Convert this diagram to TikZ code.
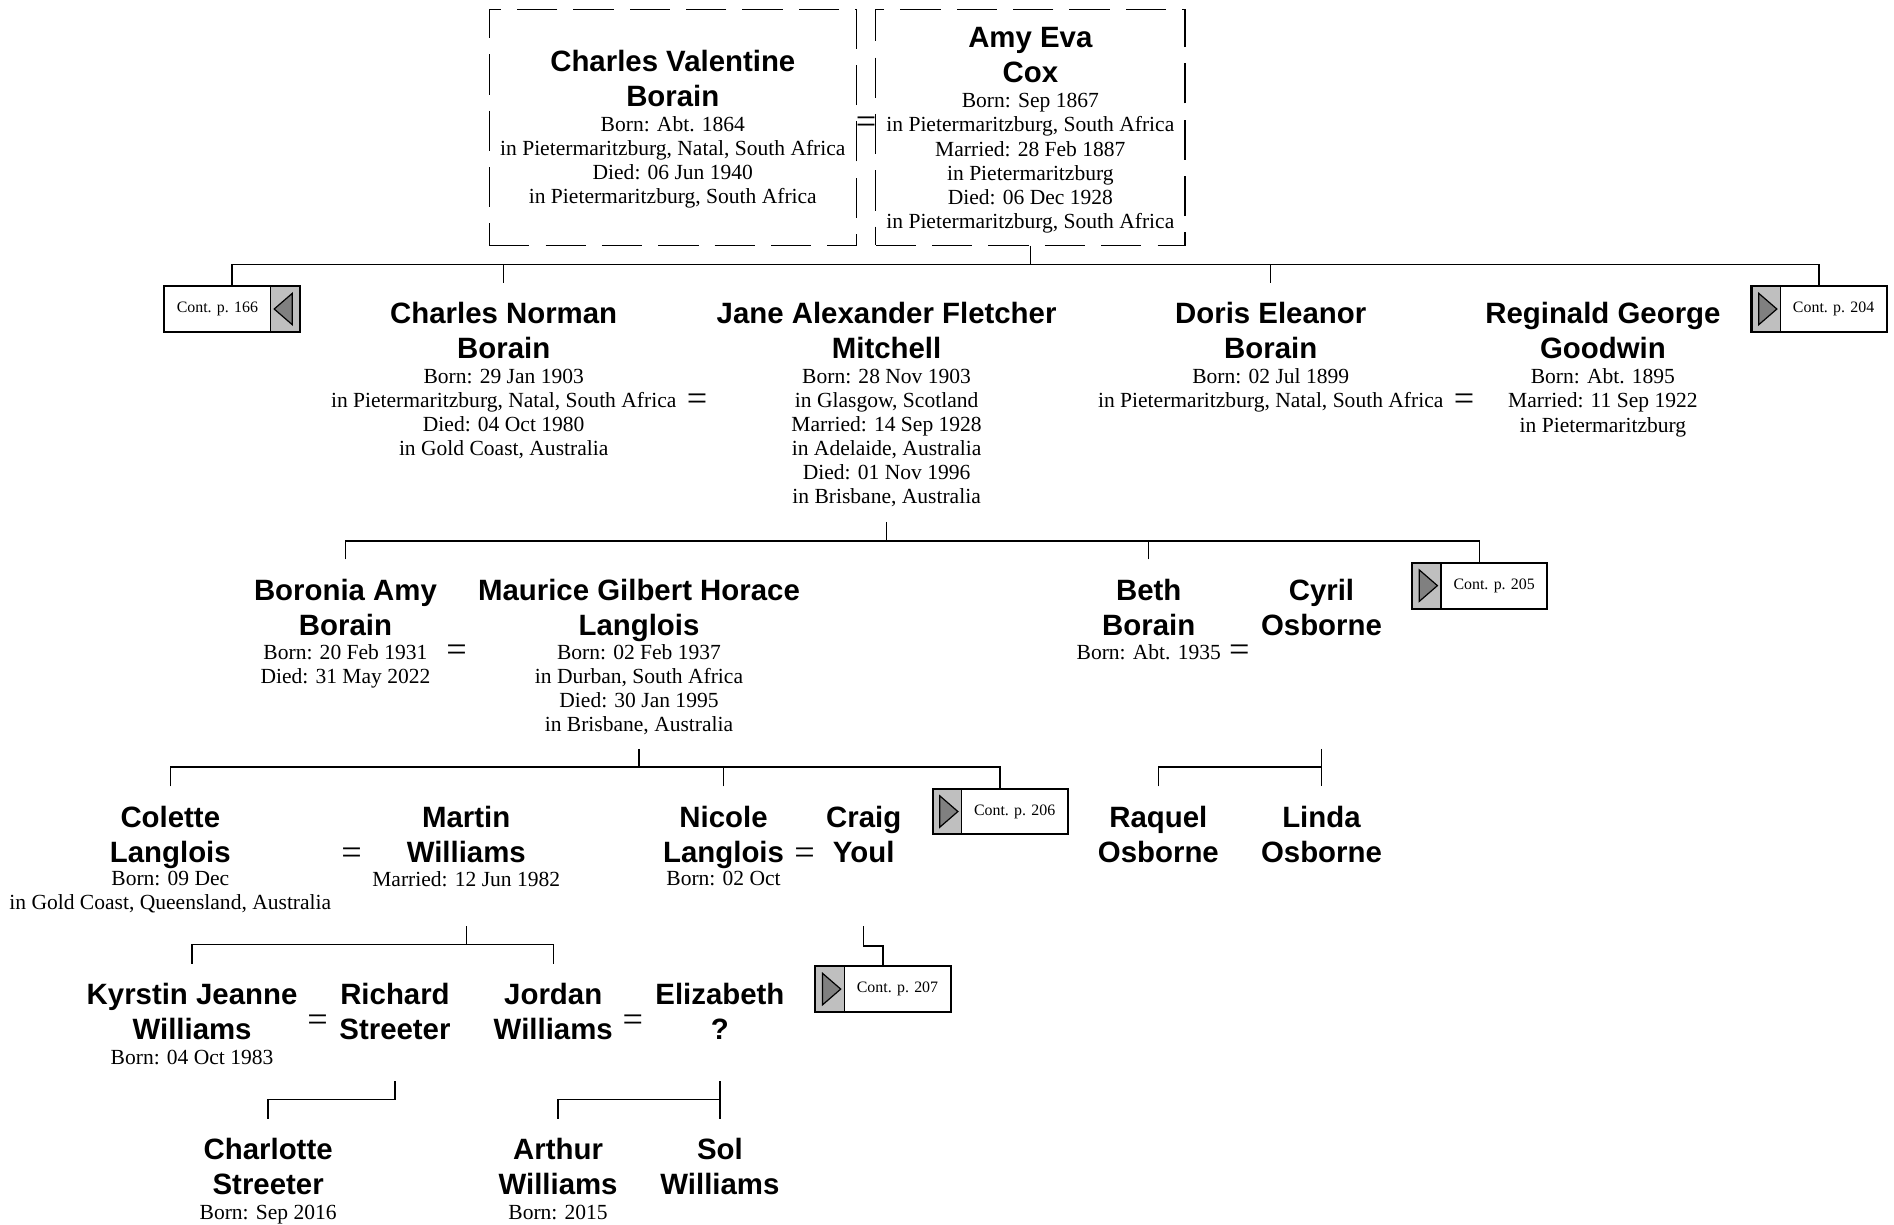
\documentclass[tikz,border=0pt]{standalone}
\usepackage{fontspec}
\setmainfont{Liberation Serif}
\setsansfont{Liberation Sans}

\newcommand{\namefont}{\fontsize{14.6}{17.4}\selectfont\sffamily\bfseries}
\newcommand{\infofont}{\fontsize{10.7}{12}\selectfont}
\newcommand{\contfont}{\fontsize{7.9}{9.6}\selectfont}

\definecolor{panelgray}{gray}{0.75}
\definecolor{trigray}{gray}{0.5}

\tikzset{
  persname/.style={font=\namefont, align=center, inner xsep=0pt, inner ysep=9.6pt, anchor=north},
  persinfo/.style={font=\infofont, align=center, inner sep=0pt, anchor=north},
  wed/.style={font=\fontsize{18}{18}\selectfont, inner sep=0pt},
  link/.style={line width=0.7pt},
  ancestor/.style={draw, line width=0.6pt, dash pattern=on 20pt off 8pt, minimum height=117pt, inner sep=0pt},
  contbox/.style={draw, fill=white, line width=1pt, minimum width=67.2pt, minimum height=22.8pt,
    inner sep=0pt, font=\contfont, anchor=north},
  panel/.style={draw, fill=panelgray, line width=0.6pt},
  arrowtri/.style={draw, fill=trigray, line width=0.6pt},
  % continuation box, panel on the right, arrow pointing back
  contback/.style={contbox, execute at begin node={\hspace*{-14.4pt}},
    path picture={
      \draw[panel] ([xshift=-14.4pt]path picture bounding box.north east) rectangle (path picture bounding box.south east);
      \draw[arrowtri] ([xshift=-3.6pt,yshift=-3.6pt]path picture bounding box.north east)
        -- ([xshift=-12.6pt]path picture bounding box.east)
        -- ([xshift=-3.6pt,yshift=3.6pt]path picture bounding box.south east) -- cycle;
    }},
  % continuation box, panel on the left, arrow pointing on
  contfwd/.style={contbox, execute at begin node={\hspace*{14.4pt}},
    path picture={
      \draw[panel] (path picture bounding box.north west) rectangle ([xshift=14.4pt]path picture bounding box.south west);
      \draw[arrowtri] ([xshift=3.6pt,yshift=-3.6pt]path picture bounding box.north west)
        -- ([xshift=12.6pt]path picture bounding box.west)
        -- ([xshift=3.6pt,yshift=3.6pt]path picture bounding box.south west) -- cycle;
    }},
}

\begin{document}
\begin{tikzpicture}[x=0.6pt, y=-0.6pt]
  \useasboundingbox (0,0) rectangle (1568,1014);

  % generation 1
  \node[ancestor, minimum width=182.4pt] (cvbbox) at (557,105.5) {};
  \node[ancestor, minimum width=153.6pt] (aecbox) at (853,105.5) {};
  \node[persname] (cvb) at (557,25) {Charles Valentine\\Borain};
  \node[persinfo] (cvbinfo) at (557,96) {Born: Abt. 1864\\in Pietermaritzburg, Natal, South Africa\\Died: 06 Jun 1940\\in Pietermaritzburg, South Africa};
  \node[wed] (m0) at (717,104) {=};
  \node[persname] (aec) at (853,6) {Amy Eva\\Cox};
  \node[persinfo] (aecinfo) at (853,77) {Born: Sep 1867\\in Pietermaritzburg, South Africa\\Married: 28 Feb 1887\\in Pietermaritzburg\\Died: 06 Dec 1928\\in Pietermaritzburg, South Africa};

  % generation 2
  \node[contback] (c166) at (192,236) {Cont. p. 166};
  \node[persname] (cnb) at (417,234) {Charles Norman\\Borain};
  \node[persinfo] (cnbinfo) at (417,305) {Born: 29 Jan 1903\\in Pietermaritzburg, Natal, South Africa\\Died: 04 Oct 1980\\in Gold Coast, Australia};
  \node[wed] (m1) at (577,333) {=};
  \node[persname] (jafm) at (734,234) {Jane Alexander Fletcher\\Mitchell};
  \node[persinfo] (jafminfo) at (734,305) {Born: 28 Nov 1903\\in Glasgow, Scotland\\Married: 14 Sep 1928\\in Adelaide, Australia\\Died: 01 Nov 1996\\in Brisbane, Australia};
  \node[persname] (deb) at (1052,234) {Doris Eleanor\\Borain};
  \node[persinfo] (debinfo) at (1052,305) {Born: 02 Jul 1899\\in Pietermaritzburg, Natal, South Africa};
  \node[wed] (m2) at (1212,333) {=};
  \node[persname] (rgg) at (1327,234) {Reginald George\\Goodwin};
  \node[persinfo] (rgginfo) at (1327,305) {Born: Abt. 1895\\Married: 11 Sep 1922\\in Pietermaritzburg};
  \node[contfwd] (c204) at (1506,236) {Cont. p. 204};

  % generation 3
  \node[persname] (bab) at (286,463) {Boronia Amy\\Borain};
  \node[persinfo] (babinfo) at (286,533) {Born: 20 Feb 1931\\Died: 31 May 2022};
  \node[wed] (m3) at (378,541) {=};
  \node[persname] (mghl) at (529,463) {Maurice Gilbert Horace\\Langlois};
  \node[persinfo] (mghlinfo) at (529,533) {Born: 02 Feb 1937\\in Durban, South Africa\\Died: 30 Jan 1995\\in Brisbane, Australia};
  \node[persname] (beb) at (951,463) {Beth\\Borain};
  \node[persinfo] (bebinfo) at (951,533) {Born: Abt. 1935};
  \node[wed] (m4) at (1026,541) {=};
  \node[persname] (cyo) at (1094,463) {Cyril\\Osborne};
  \node[contfwd] (c205) at (1225,465) {Cont. p. 205};

  % generation 4
  \node[persname] (col) at (141,651) {Colette\\Langlois};
  \node[persinfo] (colinfo) at (141,721) {Born: 09 Dec\\in Gold Coast, Queensland, Australia};
  \node[wed] (m5) at (291,709) {=};
  \node[persname] (maw) at (386,651) {Martin\\Williams};
  \node[persinfo] (mawinfo) at (386,721) {Married: 12 Jun 1982};
  \node[persname] (nil) at (599,651) {Nicole\\Langlois};
  \node[persinfo] (nilinfo) at (599,721) {Born: 02 Oct};
  \node[wed] (m6) at (666,709) {=};
  \node[persname] (cry) at (715,651) {Craig\\Youl};
  \node[contfwd] (c206) at (828,652) {Cont. p. 206};
  \node[persname] (rao) at (959,651) {Raquel\\Osborne};
  \node[persname] (lio) at (1094,651) {Linda\\Osborne};

  % generation 5
  \node[persname] (kjw) at (159,798) {Kyrstin Jeanne\\Williams};
  \node[persinfo] (kjwinfo) at (159,869) {Born: 04 Oct 1983};
  \node[wed] (m7) at (263,847) {=};
  \node[persname] (rst) at (327,798) {Richard\\Streeter};
  \node[persname] (jow) at (458,798) {Jordan\\Williams};
  \node[wed] (m8) at (524,847) {=};
  \node[persname] (eli) at (596,798) {Elizabeth\\?};
  \node[contfwd] (c207) at (731,799) {Cont. p. 207};

  % generation 6
  \node[persname] (chs) at (222,926) {Charlotte\\Streeter};
  \node[persinfo] (chsinfo) at (222,997) {Born: Sep 2016};
  \node[persname] (arw) at (462,926) {Arthur\\Williams};
  \node[persinfo] (arwinfo) at (462,997) {Born: 2015};
  \node[persname] (sow) at (596,926) {Sol\\Williams};

  % descent lines
  \coordinate (bar1) at (853,219);
  \coordinate (jafm-d) at (734,432);
  \coordinate (bar2) at (734,448);
  \coordinate (mghl-d) at (529,620);
  \coordinate (bar3) at (529,635);
  \coordinate (cyo-d) at (1094,620);
  \coordinate (maw-d) at (386,767);
  \coordinate (bar4) at (386,782);
  \coordinate (cry-d) at (715,767);
  \coordinate (cry-b) at (715,783);
  \coordinate (rst-d) at (327,895);
  \coordinate (bar5) at (327,910);
  \coordinate (eli-d) at (596,895);
  \coordinate (bar6) at (596,910);

  \draw[link] (aecbox.south) -- (bar1);
  \draw[link] (c166.north) |- (bar1) -| (c204.north);
  \draw[link] (cnb.north) -- (cnb.north |- bar1);
  \draw[link] (deb.north) -- (deb.north |- bar1);

  \draw[link] (jafm-d) -- (bar2);
  \draw[link] (bab.north) |- (bar2) -| (c205.north);
  \draw[link] (beb.north) -- (beb.north |- bar2);

  \draw[link] (mghl-d) -- (bar3);
  \draw[link] (col.north) |- (bar3) -| (c206.north);
  \draw[link] (nil.north) -- (nil.north |- bar3);
  \draw[link] (cyo-d) -- (lio.north);
  \draw[link] (rao.north) |- (cyo-d |- bar3);

  \draw[link] (maw-d) -- (bar4);
  \draw[link] (kjw.north) |- (bar4) -| (jow.north);
  \draw[link] (cry-d) -- (cry-b) -| (c207.north);

  \draw[link] (rst-d) -- (bar5) -| (chs.north);
  \draw[link] (eli-d) -- (sow.north);
  \draw[link] (arw.north) |- (bar6);
\end{tikzpicture}
\end{document}
